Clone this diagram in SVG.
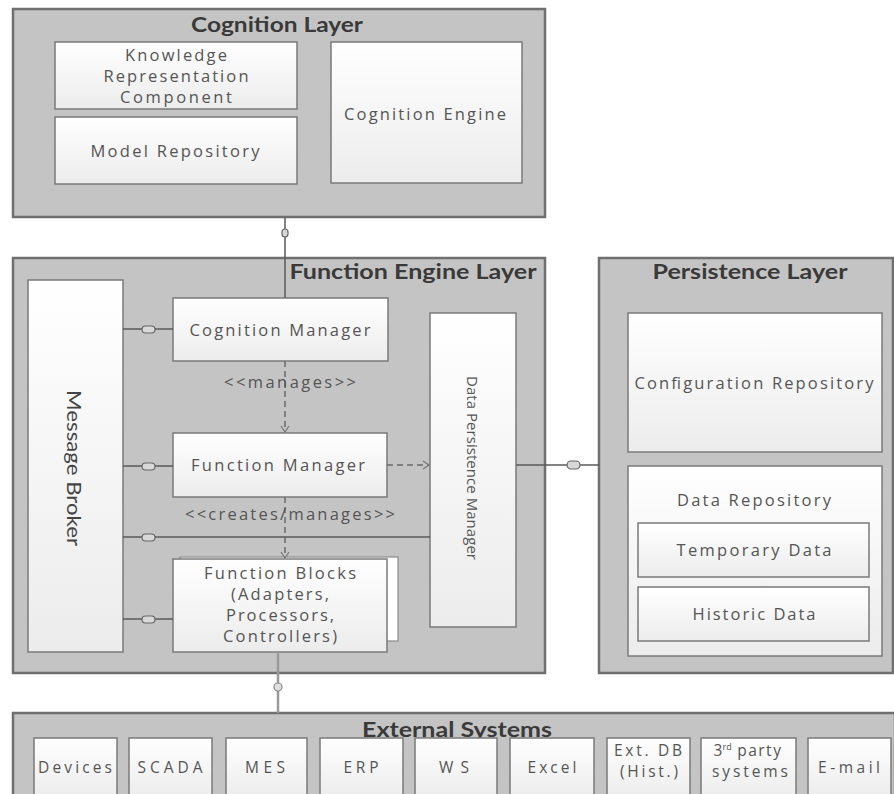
<svg xmlns="http://www.w3.org/2000/svg" width="894" height="794" viewBox="0 0 894 794">
<defs>
<linearGradient id="box" x1="0" y1="0" x2="0" y2="1">
<stop offset="0" stop-color="#ffffff"/>
<stop offset="1" stop-color="#ececec"/>
</linearGradient>
<marker id="open" markerWidth="10" markerHeight="10" refX="8" refY="5" orient="auto" markerUnits="userSpaceOnUse">
<path d="M2,1 L8,5 L2,9" fill="none" stroke="#777" stroke-width="1.2"/>
</marker>
<style>
.layer{fill:#c4c4c4;stroke:#6f6f6f;stroke-width:2.5}
.box{fill:url(#box);stroke:#7a7a7a;stroke-width:1.5}
.title{font-family:Lato,"Liberation Sans",sans-serif;font-weight:bold;font-size:20px;fill:#3a3a3a;text-anchor:middle}
.t{font-family:"Open Sans","DejaVu Sans",sans-serif;font-size:16.5px;fill:#555;text-anchor:middle}
.e{font-family:"Open Sans","DejaVu Sans",sans-serif;font-size:15.5px;fill:#555;text-anchor:middle}
.line{stroke:#5a5a5a;stroke-width:1.5;fill:none}
.dash{stroke:#6a6a6a;stroke-width:1.5;fill:none;stroke-dasharray:6,4}
.sym{fill:#d8d8d8;stroke:#666;stroke-width:1.2}
</style>
</defs>
<rect width="894" height="794" fill="#ffffff"/>

<g id="cognition-layer">
<rect class="layer" x="13" y="9" width="532" height="208"/>
<text class="title" x="277" y="32" textLength="172" lengthAdjust="spacingAndGlyphs">Cognition Layer</text>
</g>
<g id="knowledge-representation">
<rect class="box" x="55" y="42" width="242" height="67"/>
<text class="t" x="176" y="61" textLength="102" lengthAdjust="spacing">Knowledge</text>
<text class="t" x="176" y="82" textLength="145" lengthAdjust="spacing">Representation</text>
<text class="t" x="176" y="103" textLength="112" lengthAdjust="spacing">Component</text>
</g>
<g id="model-repository">
<rect class="box" x="55" y="117" width="242" height="67"/>
<text class="t" x="175" y="157" textLength="169" lengthAdjust="spacing">Model Repository</text>
</g>
<g id="cognition-engine">
<rect class="box" x="331" y="42" width="191" height="141"/>
<text class="t" x="425" y="120" textLength="162" lengthAdjust="spacing">Cognition Engine</text>
</g>

<g id="function-engine-layer">
<rect class="layer" x="13" y="258" width="532" height="415"/>
<text class="title" x="413" y="279" textLength="247" lengthAdjust="spacingAndGlyphs">Function Engine Layer</text>
</g>
<g id="message-broker">
<rect class="box" x="28" y="280" width="95" height="372"/>
<text class="title" style="font-weight:normal;fill:#444" transform="translate(67,468) rotate(90)" textLength="156" lengthAdjust="spacingAndGlyphs">Message Broker</text>
</g>
<g id="cognition-manager">
<rect class="box" x="173" y="298" width="215" height="63"/>
<text class="t" x="280" y="336" textLength="181" lengthAdjust="spacing">Cognition Manager</text>
</g>
<g id="function-manager">
<rect class="box" x="173" y="433" width="214" height="64"/>
<text class="t" x="278" y="471" textLength="174" lengthAdjust="spacing">Function Manager</text>
</g>
<g id="function-blocks">
<rect x="180" y="557" width="218" height="84" fill="#ffffff" stroke="#8a8a8a" stroke-width="1.2"/>
<rect class="box" x="173" y="559" width="214" height="93"/>
<text class="t" x="280" y="579" textLength="152" lengthAdjust="spacing">Function Blocks</text>
<text class="t" x="280" y="600" textLength="98" lengthAdjust="spacing">(Adapters,</text>
<text class="t" x="280" y="621" textLength="108" lengthAdjust="spacing">Processors,</text>
<text class="t" x="280" y="642" textLength="114" lengthAdjust="spacing">Controllers)</text>
</g>
<g id="data-persistence-manager">
<rect class="box" x="430" y="313" width="86" height="314"/>
<text class="t" style="font-size:15px" transform="translate(467,468) rotate(90)" textLength="184" lengthAdjust="spacing">Data Persistence Manager</text>
</g>

<g id="persistence-layer">
<rect class="layer" x="599" y="258" width="294" height="415"/>
<text class="title" x="750" y="279" textLength="195" lengthAdjust="spacingAndGlyphs">Persistence Layer</text>
</g>
<g id="configuration-repository">
<rect class="box" x="628" y="313" width="254" height="139"/>
<text class="t" x="754" y="389" textLength="239" lengthAdjust="spacing">Configuration Repository</text>
</g>
<g id="data-repository">
<rect class="box" x="628" y="466" width="254" height="190"/>
<text class="t" x="754" y="506" textLength="154" lengthAdjust="spacing">Data Repository</text>
</g>
<g id="temporary-data">
<rect class="box" x="638" y="523" width="231" height="54"/>
<text class="t" x="754" y="556" textLength="155" lengthAdjust="spacing">Temporary Data</text>
</g>
<g id="historic-data">
<rect class="box" x="638" y="587" width="231" height="54"/>
<text class="t" x="754" y="620" textLength="123" lengthAdjust="spacing">Historic Data</text>
</g>

<g id="external-systems">
<rect class="layer" x="13" y="713" width="882" height="90"/>
<text class="title" x="457" y="737" textLength="190" lengthAdjust="spacingAndGlyphs">External Systems</text>
</g>
<g id="devices"><rect class="box" x="34" y="738" width="83" height="60"/><text class="e" x="75" y="773" textLength="74" lengthAdjust="spacing">Devices</text></g>
<g id="scada"><rect class="box" x="129" y="738" width="83" height="60"/><text class="e" x="170" y="773" textLength="65" lengthAdjust="spacing">SCADA</text></g>
<g id="mes"><rect class="box" x="226" y="738" width="81" height="60"/><text class="e" x="265" y="773" textLength="40" lengthAdjust="spacing">MES</text></g>
<g id="erp"><rect class="box" x="320" y="738" width="83" height="60"/><text class="e" x="361" y="773" textLength="35" lengthAdjust="spacing">ERP</text></g>
<g id="ws"><rect class="box" x="415" y="738" width="82" height="60"/><text class="e" x="454" y="773" textLength="30" lengthAdjust="spacing">WS</text></g>
<g id="excel"><rect class="box" x="510" y="738" width="84" height="60"/><text class="e" x="552" y="773" textLength="49" lengthAdjust="spacing">Excel</text></g>
<g id="ext-db"><rect class="box" x="607" y="738" width="83" height="60"/><text class="e" x="648" y="756" textLength="68" lengthAdjust="spacing">Ext. DB</text><text class="e" x="649" y="777" textLength="58" lengthAdjust="spacing">(Hist.)</text></g>
<g id="third-party"><rect class="box" x="701" y="738" width="95" height="60"/><text class="e" x="748" y="756">3<tspan font-size="9" dy="-6">rd</tspan><tspan dy="6" letter-spacing="1.5"> party</tspan></text><text class="e" x="750" y="777" textLength="76" lengthAdjust="spacing">systems</text></g>
<g id="email"><rect class="box" x="808" y="738" width="83" height="60"/><text class="e" x="849" y="773" textLength="62" lengthAdjust="spacing">E-mail</text></g>

<g id="connectors">
<line class="line" x1="285" y1="217" x2="285" y2="298"/>
<rect class="sym" x="282" y="229" width="6" height="8" rx="3"/>
<line class="line" x1="123" y1="329" x2="173" y2="329"/>
<rect class="sym" x="142" y="326" width="13" height="7" rx="3.5"/>
<line class="line" x1="123" y1="466" x2="173" y2="466"/>
<rect class="sym" x="142" y="463" width="13" height="7" rx="3.5"/>
<line class="line" x1="123" y1="537" x2="430" y2="537"/>
<rect class="sym" x="142" y="534" width="13" height="7" rx="3.5"/>
<line class="line" x1="123" y1="619" x2="173" y2="619"/>
<rect class="sym" x="142" y="616" width="13" height="7" rx="3.5"/>
<line class="line" x1="516" y1="465" x2="599" y2="465"/>
<rect class="sym" x="567" y="461" width="13" height="8" rx="4"/>
<line class="dash" x1="285" y1="361" x2="285" y2="432" marker-end="url(#open)"/>
<text class="t" x="290" y="388" textLength="132" lengthAdjust="spacing">&lt;&lt;manages&gt;&gt;</text>
<line class="dash" x1="387" y1="465" x2="429" y2="465" marker-end="url(#open)"/>
<line class="dash" x1="285" y1="497" x2="285" y2="558" marker-end="url(#open)"/>
<text class="t" x="290" y="520" textLength="210" lengthAdjust="spacing">&lt;&lt;creates/manages&gt;&gt;</text>
<line x1="278" y1="652" x2="278" y2="713" stroke="#9a9a9a" stroke-width="2.5"/>
<circle cx="278" cy="687" r="4" fill="#e0e0e0" stroke="#888" stroke-width="1.2"/>
</g>
</svg>
